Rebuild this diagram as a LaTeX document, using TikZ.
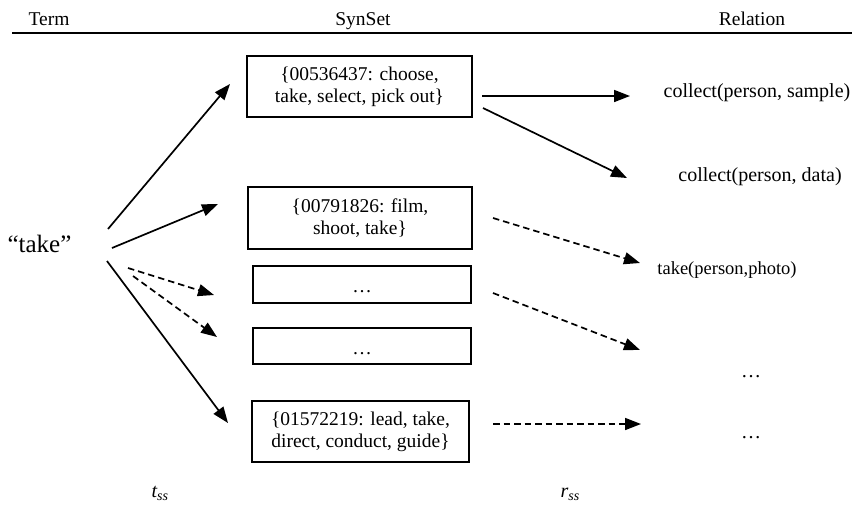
\documentclass[tikz,border=0pt]{standalone}
\usepackage{fontspec}
\setmainfont{Liberation Serif}
\usetikzlibrary{arrows.meta}
\begin{document}
\begin{tikzpicture}[x=1pt,y=-1pt,
  synbox/.style={draw, line width=1.3pt, align=center, inner sep=0pt,
                 font=\fontsize{19.5}{22}\selectfont},
  rel/.style={font=\fontsize{20}{24}\selectfont},
  hdr/.style={font=\fontsize{19.5}{22}\selectfont, anchor=base},
  link/.style={line width=1.7pt, -{Triangle[length=16pt,width=12pt]}},
  dlink/.style={link, dash pattern=on 6.5pt off 4pt},
  sub/.style={font=\fontsize{20}{24}\selectfont\itshape, anchor=base west}]
\useasboundingbox (0,0) rectangle (854,507);

% column headings and rule
\node[hdr] (hterm) at (49,25) {Term};
\node[hdr] (hsyn)  at (363,25) {SynSet};
\node[hdr] (hrel)  at (752,25) {Relation};
\coordinate (ruleL) at (12,33);
\coordinate (ruleR) at (852,33);
\draw[line width=1.3pt] (ruleL) -- (ruleR);

% the term
\node[font=\fontsize{25}{30}\selectfont, anchor=base] (term) at (39.5,252) {“take”};

% synsets
\node[synbox, minimum width=225pt, minimum height=61pt] (b1) at (359.5,86.5)
  {\{00536437: choose,\\take, select, pick out\}};
\node[synbox, minimum width=224pt, minimum height=62pt] (b2) at (360,218)
  {\{00791826: film,\\shoot, take\}};
\node[synbox, minimum width=218pt, minimum height=37pt, text height=16pt, text depth=0pt] (b3) at (362,284.5) {…};
\node[synbox, minimum width=218pt, minimum height=36pt, text height=16pt, text depth=0pt] (b4) at (362,346) {…};
\node[synbox, minimum width=217pt, minimum height=61pt] (b5) at (360.5,431.5)
  {\{01572219: lead, take,\\direct, conduct, guide\}};

% relations
\node[rel] (r1) at (757,93) {collect(person, sample)};
\node[rel] (r2) at (760,177) {collect(person, data)};
\node[rel, font=\fontsize{18.5}{22}\selectfont] (r3) at (727,270) {take(person,photo)};
\node[rel, anchor=base] (r4) at (751,377) {…};
\node[rel, anchor=base] (r5) at (751,438) {…};

% mapping labels
\node[sub] (tss) at (148,497) {t\textsubscript{ss}};
\node[sub] (rss) at (557,497) {r\textsubscript{ss}};

% term -> synset
\coordinate (ts1) at (108,229);  \coordinate (te1) at (230,84);
\coordinate (ts2) at (112,248);  \coordinate (te2) at (218,204);
\coordinate (ts3) at (107,261);  \coordinate (te3) at (228,423);
\coordinate (ts4) at (128,268);  \coordinate (te4) at (214,295);
\coordinate (ts5) at (133,276);  \coordinate (te5) at (217,337);
\draw[link]  (ts1) -- (te1);
\draw[link]  (ts2) -- (te2);
\draw[link]  (ts3) -- (te3);
\draw[dlink] (ts4) -- (te4);
\draw[dlink] (ts5) -- (te5);

% synset -> relation
\coordinate (ss1) at (482,96);   \coordinate (se1) at (630,96);
\coordinate (ss2) at (483,108);  \coordinate (se2) at (627,178);
\coordinate (ss3) at (493,218);  \coordinate (se3) at (640,263);
\coordinate (ss4) at (493,293);  \coordinate (se4) at (640,350);
\coordinate (ss5) at (493,424);  \coordinate (se5) at (641,424);
\draw[link]  (ss1) -- (se1);
\draw[link]  (ss2) -- (se2);
\draw[dlink] (ss3) -- (se3);
\draw[dlink] (ss4) -- (se4);
\draw[dlink] (ss5) -- (se5);
\end{tikzpicture}
\end{document}
